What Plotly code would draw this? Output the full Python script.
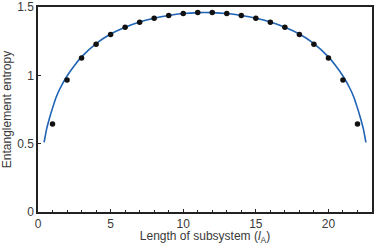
import plotly.graph_objects as go

# Data points (subsystem length l_A, entanglement entropy)
l_points = list(range(1, 23))
s_points = [0.643, 0.966, 1.127, 1.228, 1.299, 1.352, 1.389, 1.418, 1.437, 1.452, 1.459,
            1.459, 1.452, 1.437, 1.418, 1.389, 1.352, 1.299, 1.228, 1.127, 0.966, 0.643]

# Fitted curve
curve_x = [0.42, 0.6, 0.8, 1.0, 1.25, 1.5, 2.0, 2.5, 3, 4, 5, 6, 7, 8, 9, 10, 11, 11.5,
           12, 13, 14, 15, 16, 17, 18, 19, 20, 20.5, 21, 21.5, 21.75, 22.0, 22.2, 22.4, 22.58]
curve_y = [0.51, 0.61, 0.69, 0.76, 0.84, 0.90, 0.995, 1.07, 1.135, 1.232, 1.302, 1.352,
           1.39, 1.418, 1.438, 1.452, 1.459, 1.46, 1.459, 1.452, 1.438, 1.418, 1.39, 1.352,
           1.302, 1.232, 1.135, 1.07, 0.995, 0.90, 0.84, 0.76, 0.69, 0.61, 0.51]

x_ticks = [0, 5, 10, 15, 20]
y_ticks = [0, 0.5, 1, 1.5]
y_tick_labels = ["0", "0.5", "1", "1.5"]

fig = go.Figure()
fig.add_trace(go.Scatter(x=curve_x, y=curve_y, mode="lines",
                         line=dict(color="#1f63b5", width=1.6, shape="spline", smoothing=0.6),
                         showlegend=False, hoverinfo="skip"))
fig.add_trace(go.Scatter(x=l_points, y=s_points, mode="markers",
                         marker=dict(color="#111111", size=5.5),
                         showlegend=False))

font = dict(family="Liberation Sans, Arial, sans-serif", size=12, color="#3a3a3a")
fig.update_layout(
    width=374, height=245,
    margin=dict(l=38, r=2, t=7, b=33),
    plot_bgcolor="white", paper_bgcolor="white",
    font=font,
    xaxis=dict(range=[0, 23], tickvals=x_ticks, ticks="inside", ticklen=3, tickcolor="#222",
               showline=True, linecolor="#222", linewidth=1.5, mirror=True,
               showgrid=False, zeroline=False,
               minor=dict(dtick=1, ticks="inside", ticklen=2, tickcolor="#222"),
               title=dict(text="Length of subsystem (<i>l</i><sub>A</sub>)", standoff=1,
                          font=dict(size=12, color="#3a3a3a"))),
    yaxis=dict(range=[0, 1.5], tickvals=y_ticks, ticktext=y_tick_labels,
               ticks="inside", ticklen=3, tickcolor="#222",
               showline=True, linecolor="#222", linewidth=1.5, mirror=True,
               showgrid=False, zeroline=False, automargin=False,
               title=dict(text="Entanglement entropy", standoff=4,
                          font=dict(size=12, color="#3a3a3a"))),
)
fig.write_html("out.html", config={"displayModeBar": False},
               post_script="document.body.style.margin='0';document.body.style.overflow='hidden';")
